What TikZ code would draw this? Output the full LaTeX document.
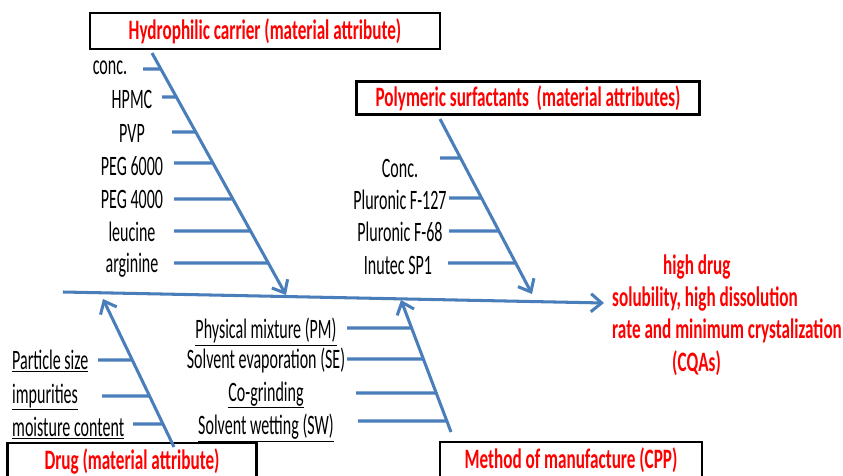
\documentclass[tikz,border=0pt]{standalone}
\usepackage{fontspec}
\setmainfont{Carlito}[FakeStretch=0.57, BoldFeatures={FakeStretch=0.61}]
\usepackage{tikz}
\usetikzlibrary{arrows.meta,calc}
\definecolor{boneblue}{RGB}{74,126,187}

\begin{document}
\begin{tikzpicture}[x=0.03cm, y=-0.03cm,
  every node/.style={font=\fontsize{24}{28}\selectfont, inner sep=0pt},
  title/.style={draw, line width=2.5pt, text=red, font=\fontsize{24}{28}\selectfont\bfseries, minimum height=1.08cm},
  effect/.style={text=red, font=\fontsize{24}{27.7}\selectfont\bfseries, align=left},
  bone/.style={draw=boneblue, line width=2.6pt, -{Straight Barb[length=3.2mm,width=5.4mm]}},
  rib/.style={draw=boneblue, line width=2.6pt}
]
\useasboundingbox (0,0) rectangle (843,475);

\node[title, minimum width=10.5cm] (hydro) at (265,31) {Hydrophilic carrier (material attribute)};
\node[title, minimum width=10.29cm, minimum height=0.99cm] (surf) at (528,98) {Polymeric surfactants\ \ (material attributes)};
\node[title, minimum width=7.47cm] (drug) at (132,461) {Drug (material attribute)};
\node[title, minimum width=7.86cm] (manuf) at (571,460) {Method of manufacture (CPP)};
\node[effect, anchor=west] (cqa) at (612,315) {\hspace*{1.53cm}high drug\\solubility, high dissolution\\rate and minimum crystalization\\\hspace*{1.8cm}(CQAs)};

\coordinate (hcTop) at (152,53);
\coordinate (hcTip) at (286,295);
\coordinate (psTop) at (440,119);
\coordinate (psTip) at (532,294);
\coordinate (drFoot) at (174,447);
\coordinate (drTip) at (103,299);
\coordinate (mfFoot) at (451,432);
\coordinate (mfTip) at (401,300);
\coordinate (spL) at (63,292);
\coordinate (spR) at (604,303);

\draw[bone] (spL) -- (spR);
\draw[bone] (hcTop) -- (hcTip);
\draw[bone] (psTop) -- (psTip);
\draw[bone] (drFoot) -- (drTip);
\draw[bone] (mfFoot) -- (mfTip);

\foreach \i/\txt/\lx/\ly/\ry/\rs in {1/conc./110/68/69/143, 2/HPMC/132/99/97/162,
    3/PVP/132/133/132/172, 4/PEG 6000/132/166/163/174, 5/PEG 4000/132/199/199/174,
    6/leucine/132/232/231/174, 7/arginine/132/265/263/174}{
  \node (hc\i) at (\lx,\ly) {\txt};
  \coordinate (hcS\i) at (\rs,\ry);
  \coordinate (hcE\i) at ($(hcTop)!{(\ry-53)/242}!(hcTip)$);
  \draw[rib] (hcS\i) -- (hcE\i);
}

\foreach \i/\txt/\lx/\ly/\ry/\rs in {1/Conc./400/168/158/440, 2/Pluronic F-127/400/200/198/449,
    3/Pluronic F-68/400/232/231/449, 4/Inutec SP1/398/265/263/448}{
  \node (ps\i) at (\lx,\ly) {\txt};
  \coordinate (psS\i) at (\rs,\ry);
  \coordinate (psE\i) at ($(psTop)!{(\ry-119)/175}!(psTip)$);
  \draw[rib] (psS\i) -- (psE\i);
}

\foreach \i/\txt/\ly/\ry/\rs in {1/\underline{Particle size}/361/360/98,
    2/\underline{impurities}/397/396/102, 3/\underline{moisture content}/428/424/133}{
  \node[anchor=west] (dr\i) at (12,\ly) {\txt};
  \coordinate (drS\i) at (\rs,\ry);
  \coordinate (drE\i) at ($(drTip)!{(\ry-299)/148}!(drFoot)$);
  \draw[rib] (drS\i) -- (drE\i);
}

\foreach \i/\txt/\ly/\ry/\rs in {1/\underline{Physical mixture (PM)}/332/328/347,
    2/Solvent evaporation (SE)/360/359/347, 3/\underline{Co-grinding}/395/393/356,
    4/\underline{Solvent wetting (SW)}/428/421/358}{
  \node (mf\i) at (266,\ly) {\txt};
  \coordinate (mfS\i) at (\rs,\ry);
  \coordinate (mfE\i) at ($(mfTip)!{(\ry-300)/132}!(mfFoot)$);
  \draw[rib] (mfS\i) -- (mfE\i);
}
\end{tikzpicture}
\end{document}
